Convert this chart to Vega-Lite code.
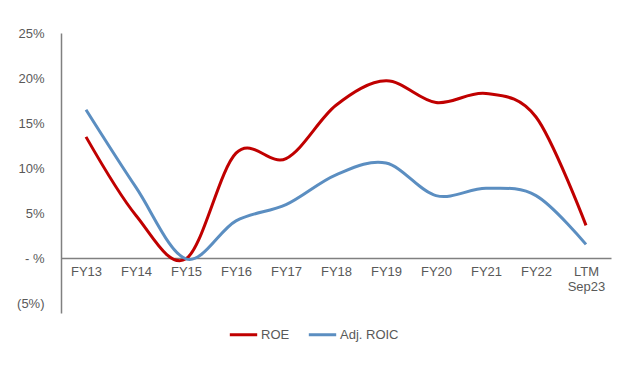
{
  "$schema": "https://vega.github.io/schema/vega-lite/v6.json",
  "width": 550,
  "height": 280,
  "autosize": "none",
  "padding": {"left": 61, "top": 33, "right": 29, "bottom": 53},
  "background": "white",
  "config": {
    "view": {"stroke": null},
    "font": "Liberation Sans"
  },
  "data": {
    "values": [
      {"year": "FY13", "series": "ROE", "value": 0.135},
      {"year": "FY14", "series": "ROE", "value": 0.048},
      {"year": "FY15", "series": "ROE", "value": 0.0},
      {"year": "FY16", "series": "ROE", "value": 0.117},
      {"year": "FY17", "series": "ROE", "value": 0.111},
      {"year": "FY18", "series": "ROE", "value": 0.17},
      {"year": "FY19", "series": "ROE", "value": 0.197},
      {"year": "FY20", "series": "ROE", "value": 0.173},
      {"year": "FY21", "series": "ROE", "value": 0.183},
      {"year": "FY22", "series": "ROE", "value": 0.157},
      {"year": "LTM Sep23", "series": "ROE", "value": 0.037},
      {"year": "FY13", "series": "Adj. ROIC", "value": 0.165},
      {"year": "FY14", "series": "Adj. ROIC", "value": 0.079},
      {"year": "FY15", "series": "Adj. ROIC", "value": 0.0},
      {"year": "FY16", "series": "Adj. ROIC", "value": 0.042},
      {"year": "FY17", "series": "Adj. ROIC", "value": 0.06},
      {"year": "FY18", "series": "Adj. ROIC", "value": 0.093},
      {"year": "FY19", "series": "Adj. ROIC", "value": 0.106},
      {"year": "FY20", "series": "Adj. ROIC", "value": 0.07},
      {"year": "FY21", "series": "Adj. ROIC", "value": 0.078},
      {"year": "FY22", "series": "Adj. ROIC", "value": 0.07},
      {"year": "LTM Sep23", "series": "Adj. ROIC", "value": 0.016}
    ]
  },
  "mark": {"type": "line", "interpolate": "cardinal", "tension": 0, "strokeWidth": 3},
  "encoding": {
    "x": {
      "field": "year",
      "type": "nominal",
      "sort": ["FY13", "FY14", "FY15", "FY16", "FY17", "FY18", "FY19", "FY20", "FY21", "FY22", "LTM Sep23"],
      "scale": {"type": "point", "padding": 0.5},
      "axis": {
        "title": null,
        "offset": -55,
        "domainColor": "#808080",
        "domainWidth": 1.5,
        "ticks": false,
        "labelAngle": 0,
        "labelPadding": 7,
        "labelFontSize": 13,
        "labelColor": "#595959",
        "labelExpr": "datum.value == 'LTM Sep23' ? ['LTM', 'Sep23'] : datum.label"
      }
    },
    "y": {
      "field": "value",
      "type": "quantitative",
      "scale": {"domain": [-0.06, 0.25], "nice": false, "zero": false},
      "axis": {
        "title": null,
        "values": [-0.05, 0, 0.05, 0.1, 0.15, 0.2, 0.25],
        "grid": false,
        "ticks": false,
        "domainColor": "#808080",
        "domainWidth": 1.5,
        "labelPadding": 17,
        "labelFontSize": 13,
        "labelColor": "#595959",
        "labelExpr": "datum.value == 0 ? '- %' : (datum.value < 0 ? '(' + format(-datum.value, '.0%') + ')' : format(datum.value, '.0%'))"
      }
    },
    "color": {
      "field": "series",
      "type": "nominal",
      "scale": {"domain": ["ROE", "Adj. ROIC"], "range": ["#C00000", "#5B8EC1"]},
      "legend": {
        "title": null,
        "orient": "none",
        "legendX": 167,
        "legendY": 286,
        "direction": "horizontal",
        "symbolType": "stroke",
        "symbolSize": 750,
        "symbolStrokeWidth": 3,
        "labelFontSize": 13,
        "labelColor": "#595959",
        "labelOffset": 2,
        "columnPadding": 12
      }
    }
  }
}
